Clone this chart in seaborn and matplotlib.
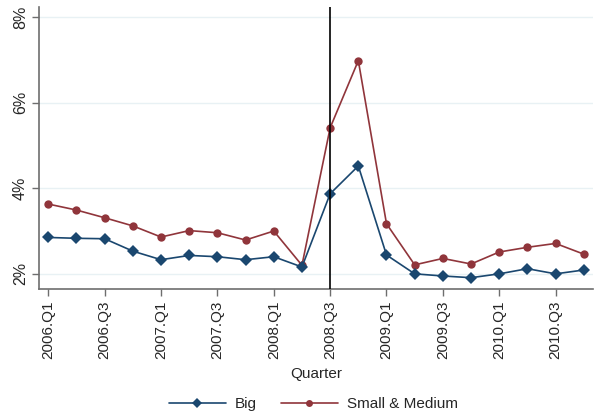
import numpy as np
import pandas as pd
import matplotlib
matplotlib.use("Agg")
import matplotlib.pyplot as plt
import seaborn as sns
from matplotlib.lines import Line2D

quarters = [f"{y}.Q{q}" for y in range(2006, 2011) for q in range(1, 5)]
big = [2.85, 2.83, 2.82, 2.53, 2.33, 2.43, 2.40, 2.33, 2.40, 2.16,
       3.87, 4.52, 2.44, 2.00, 1.95, 1.91, 2.00, 2.12, 2.00, 2.09]
small_medium = [3.63, 3.49, 3.31, 3.12, 2.86, 3.01, 2.96, 2.79, 3.00, 2.20,
                5.41, 6.98, 3.17, 2.21, 2.36, 2.23, 2.51, 2.62, 2.71, 2.46]
y_ticks = [2, 4, 6, 8]
event_quarter = "2008.Q3"

sns.set_theme(style="white")
plt.rcParams["font.family"] = ["Liberation Sans", "DejaVu Sans"]

blue = "#1a476f"
red = "#90353b"

df = pd.DataFrame({
    "idx": list(range(len(quarters))) * 2,
    "rate": big + small_medium,
    "group": ["Big"] * len(big) + ["Small & Medium"] * len(small_medium),
})

fig = plt.figure(figsize=(6, 4.18), dpi=100)
ax = fig.add_axes([0.065, 0.308, 0.923, 0.675])

for y in y_ticks:
    ax.axhline(y, color="#e8f1f4", lw=1.0, zorder=0)

sns.lineplot(data=df[df.group == "Big"], x="idx", y="rate", color=blue,
             marker="D", markersize=6.5, markeredgewidth=0, lw=1.2, ax=ax,
             legend=False, zorder=3)
sns.lineplot(data=df[df.group == "Small & Medium"], x="idx", y="rate", color=red,
             marker="o", markersize=6, markeredgewidth=0, lw=1.2, ax=ax,
             legend=False, zorder=2)

ax.axvline(quarters.index(event_quarter), color="black", lw=1.2, zorder=4)

ax.set_xlim(-0.33, 19.32)
ax.set_ylim(1.64, 8.23)
ax.set_xticks(range(0, len(quarters), 2))
ax.set_xticklabels(quarters[::2], rotation=90, fontsize=11)
ax.set_yticks(y_ticks)
ax.set_yticklabels([f"{v}%" for v in y_ticks], rotation=90, va="center", fontsize=11.5)
ax.set_xlabel("Quarter", fontsize=11, labelpad=6)
ax.set_ylabel("")

for side in ["top", "right"]:
    ax.spines[side].set_visible(False)
for side in ["left", "bottom"]:
    ax.spines[side].set_color("#6e6e6e")
    ax.spines[side].set_linewidth(1.2)
ax.tick_params(axis="both", which="major", direction="out", length=5,
               width=1, color="#6e6e6e", bottom=True, left=True, pad=3)

handles = [
    Line2D([], [], color=blue, marker="D", markersize=5, markeredgewidth=0, lw=1.2),
    Line2D([], [], color=red, marker="o", markersize=5, markeredgewidth=0, lw=1.2),
]
fig.legend(handles, ["Big", "Small & Medium"], loc="center", bbox_to_anchor=(0.5225, 0.033),
           ncol=2, frameon=False, fontsize=11, handlelength=3.7, columnspacing=1.6,
           handletextpad=0.6)

fig.savefig("out.png", dpi=100)
